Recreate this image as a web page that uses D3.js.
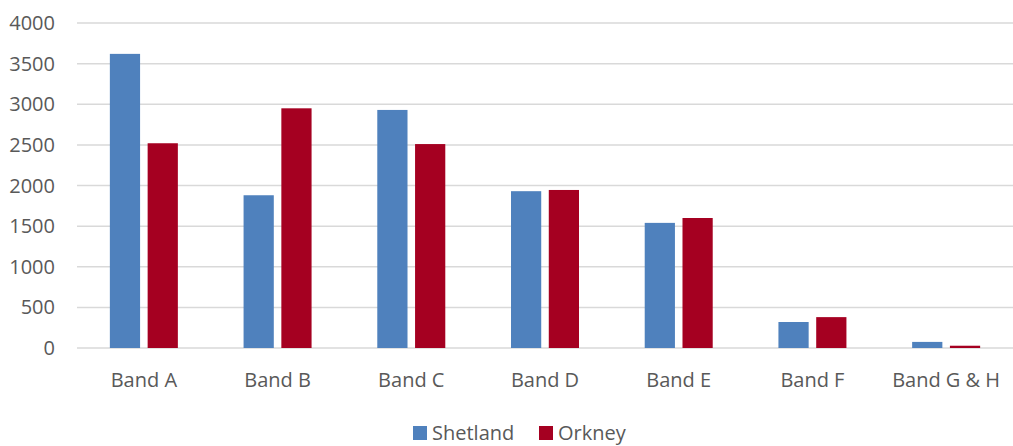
<!DOCTYPE html>
<html>
<head>
<meta charset="utf-8">
<script src="https://cdn.jsdelivr.net/npm/d3@7"></script>
<style>
  html, body { margin: 0; padding: 0; background: #fff; }
  svg { display: block; font-family: "Open Sans", sans-serif; }
</style>
</head>
<body>
<script>
// data
const bands = ["Band A", "Band B", "Band C", "Band D", "Band E", "Band F", "Band G & H"];
const seriesNames = ["Shetland", "Orkney"];
const shetland = [3620, 1880, 2930, 1930, 1540, 320, 75];
const orkney = [2520, 2950, 2510, 1945, 1600, 380, 28];
const yTicks = [0, 500, 1000, 1500, 2000, 2500, 3000, 3500, 4000];
const colors = ["#4F81BD", "#A50021"];

const width = 1013, height = 446;
const margin = { top: 23, right: 0, bottom: 98, left: 77 };

const svg = d3.select("body").append("svg")
  .attr("width", width)
  .attr("height", height);

const x = d3.scaleBand()
  .domain(bands)
  .range([margin.left, width - margin.right]);

// the two bars of a group: 30px each with a small gap
const x1 = d3.scaleBand()
  .domain(seriesNames)
  .range([0, 68])
  .paddingInner(0.2);

const y = d3.scaleLinear()
  .domain([0, 4000])
  .range([height - margin.bottom, margin.top]);

// gridlines
svg.append("g")
  .selectAll("line")
  .data(yTicks)
  .join("line")
  .attr("x1", margin.left)
  .attr("x2", width - margin.right)
  .attr("y1", d => y(d))
  .attr("y2", d => y(d))
  .attr("stroke", "#D9D9D9")
  .attr("stroke-width", 1.5);

// y tick labels
svg.append("g")
  .selectAll("text")
  .data(yTicks)
  .join("text")
  .attr("x", 55)
  .attr("y", d => y(d))
  .attr("dy", "0.35em")
  .attr("text-anchor", "end")
  .attr("fill", "#595959")
  .attr("font-size", 20)
  .text(d => d);

// bars
const rows = bands.map((b, i) => ({ band: b, values: [shetland[i], orkney[i]] }));
const group = svg.append("g")
  .selectAll("g")
  .data(rows)
  .join("g")
  .attr("transform", d => `translate(${x(d.band) + (x.bandwidth() - 68) / 2},0)`);

group.selectAll("rect")
  .data(d => d.values.map((v, k) => ({ name: seriesNames[k], value: v, k: k })))
  .join("rect")
  .attr("x", d => x1(d.name))
  .attr("width", x1.bandwidth())
  .attr("y", d => y(d.value))
  .attr("height", d => y(0) - y(d.value))
  .attr("fill", d => colors[d.k]);

// category labels
svg.append("g")
  .selectAll("text")
  .data(bands)
  .join("text")
  .attr("x", d => x(d) + x.bandwidth() / 2)
  .attr("y", 387)
  .attr("text-anchor", "middle")
  .attr("fill", "#595959")
  .attr("font-size", 20)
  .text(d => d);

// legend
const legendX = [413, 539];
const legend = svg.append("g")
  .selectAll("g")
  .data(seriesNames)
  .join("g")
  .attr("transform", (d, i) => `translate(${legendX[i]},0)`);

legend.append("rect")
  .attr("x", 0)
  .attr("y", 426)
  .attr("width", 14)
  .attr("height", 14)
  .attr("fill", (d, i) => colors[i]);

legend.append("text")
  .attr("x", 19)
  .attr("y", 440)
  .attr("fill", "#595959")
  .attr("font-size", 20)
  .text(d => d);
</script>
</body>
</html>
